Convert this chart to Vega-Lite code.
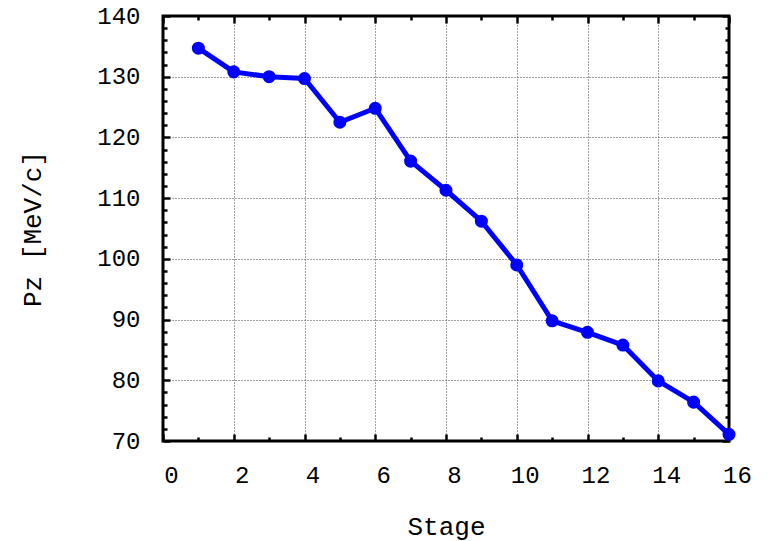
{
  "$schema": "https://vega.github.io/schema/vega-lite/v6.json",
  "width": 566,
  "height": 425,
  "autosize": {"type": "none"},
  "padding": {"left": 163, "top": 16, "right": 39, "bottom": 100},
  "background": "white",
  "config": {
    "view": {"stroke": "black", "strokeWidth": 3},
    "font": "Liberation Mono"
  },
  "data": {
    "values": [
      {"stage": 1, "pz": 134.7},
      {"stage": 2, "pz": 130.8},
      {"stage": 3, "pz": 130.0},
      {"stage": 4, "pz": 129.7},
      {"stage": 5, "pz": 122.5},
      {"stage": 6, "pz": 124.8},
      {"stage": 7, "pz": 116.1},
      {"stage": 8, "pz": 111.3},
      {"stage": 9, "pz": 106.2},
      {"stage": 10, "pz": 99.0},
      {"stage": 11, "pz": 89.8},
      {"stage": 12, "pz": 87.9},
      {"stage": 13, "pz": 85.8},
      {"stage": 14, "pz": 79.9},
      {"stage": 15, "pz": 76.4},
      {"stage": 16, "pz": 71.1}
    ]
  },
  "resolve": {"axis": {"x": "independent", "y": "independent"}},
  "layer": [
    {
      "mark": {"type": "line", "color": "#0000ff", "strokeWidth": 5, "strokeCap": "round", "strokeJoin": "round",
               "point": {"filled": true, "size": 170, "color": "#0000ff", "opacity": 1}},
      "encoding": {
        "x": {
          "field": "stage", "type": "quantitative",
          "scale": {"domain": [0, 16], "nice": false, "zero": false},
          "axis": {
            "orient": "bottom",
            "values": [0,1,2,3,4,5,6,7,8,9,10,11,12,13,14,15,16],
            "domain": false, "labels": false, "title": null,
            "tickColor": "black", "tickWidth": 2.5,
            "tickSize": {"condition": {"test": "datum.value % 2 === 0", "value": -7}, "value": -4},
            "grid": true, "gridColor": "#444", "gridDash": [1, 2], "gridWidth": 1,
            "gridOpacity": {"condition": {"test": "datum.value % 2 === 0 && datum.value > 0 && datum.value < 16", "value": 1}, "value": 0}
          }
        },
        "y": {
          "field": "pz", "type": "quantitative",
          "scale": {"domain": [70, 140], "nice": false, "zero": false},
          "axis": {
            "orient": "left",
            "values": [70,72,74,76,78,80,82,84,86,88,90,92,94,96,98,100,102,104,106,108,110,112,114,116,118,120,122,124,126,128,130,132,134,136,138,140],
            "domain": false,
            "tickColor": "black", "tickWidth": 2.5,
            "tickSize": {"condition": {"test": "datum.value % 10 === 0", "value": -7}, "value": -4},
            "labelExpr": "datum.value % 10 === 0 ? datum.label : ''",
            "labelFont": "Liberation Mono", "labelFontSize": 24, "labelColor": "black",
            "labelFlush": false, "labelOverlap": false,
            "labelPadding": 30,
            "grid": true, "gridColor": "#444", "gridDash": [1, 2], "gridWidth": 1,
            "gridOpacity": {"condition": {"test": "datum.value % 10 === 0 && datum.value > 70 && datum.value < 140", "value": 1}, "value": 0},
            "title": "Pz [MeV/c]",
            "titleFont": "Liberation Mono", "titleFontSize": 26, "titleFontWeight": "normal", "titleColor": "black",
            "titlePadding": 51
          }
        }
      }
    },
    {
      "mark": {"type": "point", "opacity": 0},
      "encoding": {
        "x": {
          "field": "stage", "type": "quantitative",
          "axis": {
            "orient": "bottom",
            "values": [0,2,4,6,8,10,12,14,16],
            "domain": false, "ticks": false, "grid": false,
            "labelFont": "Liberation Mono", "labelFontSize": 24, "labelColor": "black",
            "labelFlush": false, "labelOverlap": false,
            "labelPadding": 22, "labelOffset": 8,
            "title": "Stage",
            "titleFont": "Liberation Mono", "titleFontSize": 26, "titleFontWeight": "normal", "titleColor": "black",
            "titlePadding": 26
          }
        },
        "y": {"field": "pz", "type": "quantitative", "axis": null}
      }
    },
    {
      "mark": {"type": "point", "opacity": 0},
      "encoding": {
        "x": {
          "field": "stage", "type": "quantitative",
          "axis": {
            "orient": "top",
            "values": [0,1,2,3,4,5,6,7,8,9,10,11,12,13,14,15,16],
            "domain": false, "labels": false, "grid": false, "title": null,
            "tickColor": "black", "tickWidth": 2.5,
            "tickSize": {"condition": {"test": "datum.value % 2 === 0", "value": -7}, "value": -4}
          }
        },
        "y": {
          "field": "pz", "type": "quantitative",
          "axis": {
            "orient": "right",
            "values": [70,72,74,76,78,80,82,84,86,88,90,92,94,96,98,100,102,104,106,108,110,112,114,116,118,120,122,124,126,128,130,132,134,136,138,140],
            "domain": false, "labels": false, "grid": false, "title": null,
            "tickColor": "black", "tickWidth": 2.5,
            "tickSize": {"condition": {"test": "datum.value % 10 === 0", "value": -7}, "value": -4}
          }
        }
      }
    }
  ]
}
